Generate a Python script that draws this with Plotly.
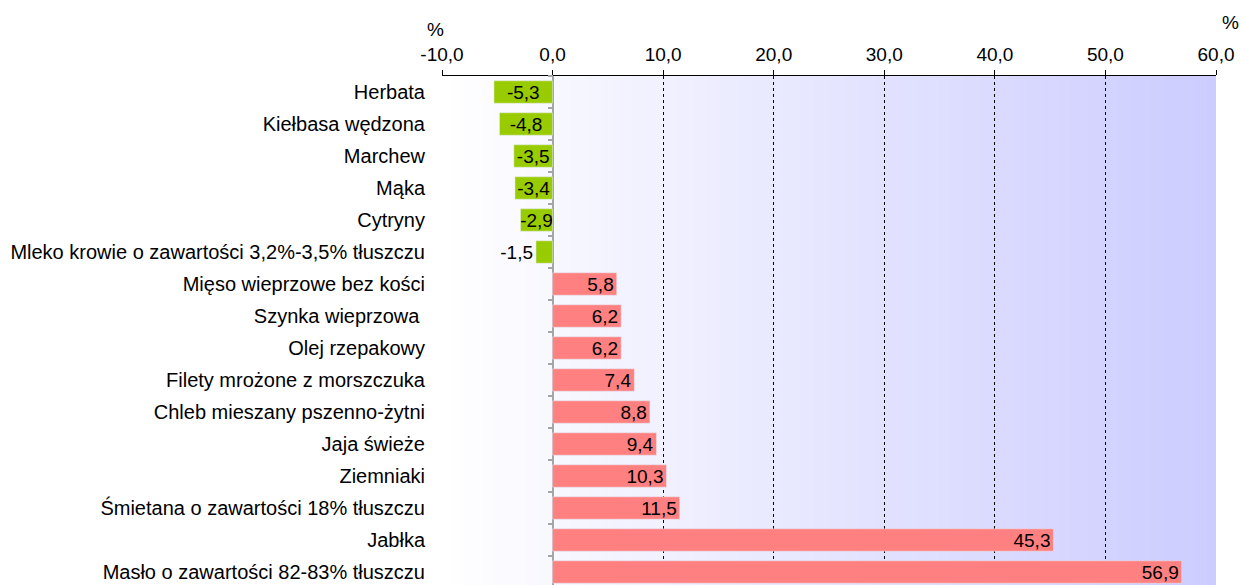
import plotly.graph_objects as go

# ---- data ----
categories = [
    "Herbata",
    "Kiełbasa wędzona",
    "Marchew",
    "Mąka",
    "Cytryny",
    "Mleko krowie o zawartości 3,2%-3,5% tłuszczu",
    "Mięso wieprzowe bez kości",
    "Szynka wieprzowa ",
    "Olej rzepakowy",
    "Filety mrożone z morszczuka",
    "Chleb mieszany pszenno-żytni",
    "Jaja świeże",
    "Ziemniaki",
    "Śmietana o zawartości 18% tłuszczu",
    "Jabłka",
    "Masło o zawartości 82-83% tłuszczu",
]
values = [-5.3, -4.8, -3.5, -3.4, -2.9, -1.5, 5.8, 6.2, 6.2, 7.4, 8.8, 9.4, 10.3, 11.5, 45.3, 56.9]

x_tick_vals = [-10, 0, 10, 20, 30, 40, 50, 60]
x_tick_labels = ["-10,0", "0,0", "10,0", "20,0", "30,0", "40,0", "50,0", "60,0"]
unit_label = "%"

# ---- styling ----
FONT = "Liberation Sans, Arial, sans-serif"
FS = 19
FS_CAT = 20
NEG_COLOR = "#99CC00"
POS_COLOR = "#FF8080"
X_MIN, X_MAX = x_tick_vals[0], x_tick_vals[-1]
N = len(categories)
Y_RANGE = [N - 0.594, -0.5]


def fmt(v):
    return f"{v:.1f}".replace(".", ",")


neg = [(c, v) for c, v in zip(categories, values) if v < 0]
pos = [(c, v) for c, v in zip(categories, values) if v >= 0]

fig = go.Figure()

fig.add_trace(go.Bar(
    y=[c for c, _ in neg], x=[v for _, v in neg], orientation="h",
    marker=dict(color=NEG_COLOR, line=dict(width=0)),
    text=[fmt(v) for _, v in neg],
    textposition=["outside" if abs(v) < 2 else "inside" for _, v in neg],
    insidetextanchor="middle", textangle=0, constraintext="none", cliponaxis=False,
    textfont=dict(family=FONT, size=FS, color="black"),
    outsidetextfont=dict(family=FONT, size=FS, color="black"),
    insidetextfont=dict(family=FONT, size=FS, color="black"),
    hoverinfo="skip", showlegend=False,
))
fig.add_trace(go.Bar(
    y=[c for c, _ in pos], x=[v for _, v in pos], orientation="h",
    marker=dict(color=POS_COLOR, line=dict(width=0)),
    text=[fmt(v) for _, v in pos],
    textposition="inside", insidetextanchor="end", textangle=0, constraintext="none",
    insidetextfont=dict(family=FONT, size=FS, color="black"),
    hoverinfo="skip", showlegend=False,
))
# invisible helper trace to build the category axis drawn at x = 0
fig.add_trace(go.Bar(
    y=categories, x=values, orientation="h", yaxis="y2",
    marker=dict(color="rgba(0,0,0,0)"), hoverinfo="skip", showlegend=False,
))

# background gradient (white -> lavender) across the x range
n_strips = 175
step = (X_MAX - X_MIN) / n_strips
shapes = []
for i in range(n_strips):
    t = (i + 0.5) / n_strips
    r = round(255 - 51 * t)
    shapes.append(dict(
        type="rect", xref="x", yref="paper", layer="below",
        x0=X_MIN + i * step, x1=min(X_MAX, X_MIN + (i + 1) * step + step * 0.3),
        y0=0, y1=1, fillcolor=f"rgb({r},{r},255)", line=dict(width=0),
    ))

fig.update_layout(
    width=1241, height=585,
    margin=dict(l=442, r=25, t=76, b=0),
    paper_bgcolor="white", plot_bgcolor="white",
    barmode="overlay", bargap=0.3,
    font=dict(family=FONT, size=FS, color="black"),
    shapes=shapes,
    xaxis=dict(
        range=[X_MIN, X_MAX], side="top",
        tickmode="array", tickvals=x_tick_vals, ticktext=x_tick_labels,
        ticks="outside", ticklen=5, tickcolor="black", tickwidth=1,
        ticklabelstandoff=1,
        showline=True, linecolor="black", linewidth=1,
        showgrid=True, gridcolor="black", gridwidth=1, griddash="dot",
        zeroline=True, zerolinecolor="#A6A6A6", zerolinewidth=1.5,
        tickfont=dict(family=FONT, size=FS, color="black"),
    ),
    yaxis=dict(
        type="category", categoryorder="array", categoryarray=categories,
        range=Y_RANGE, showgrid=False, zeroline=False, showline=False,
        ticks="", ticklabelstandoff=16,
        tickfont=dict(family=FONT, size=FS_CAT, color="black"),
    ),
    yaxis2=dict(
        type="category", categoryorder="array", categoryarray=categories,
        overlaying="y", anchor="free", side="left",
        position=(0 - X_MIN) / (X_MAX - X_MIN),
        range=Y_RANGE, showgrid=False, zeroline=False, showline=False,
        ticks="outside", ticklen=5, tickcolor="#A6A6A6", tickwidth=1.5,
        tickson="boundaries", showticklabels=False,
    ),
    annotations=[
        dict(text=unit_label, xref="paper", yref="paper", x=-0.008, y=1.092,
             xanchor="center", yanchor="middle", showarrow=False,
             font=dict(family=FONT, size=FS, color="black")),
        dict(text=unit_label, xref="paper", yref="paper", x=1.019, y=1.106,
             xanchor="center", yanchor="middle", showarrow=False,
             font=dict(family=FONT, size=FS, color="black")),
    ],
)

# remove the default page margin so the figure fills the whole window
fig.write_html(
    "out.html",
    config={"displayModeBar": False},
    post_script="document.body.style.margin='0';document.body.style.overflow='hidden';",
)
